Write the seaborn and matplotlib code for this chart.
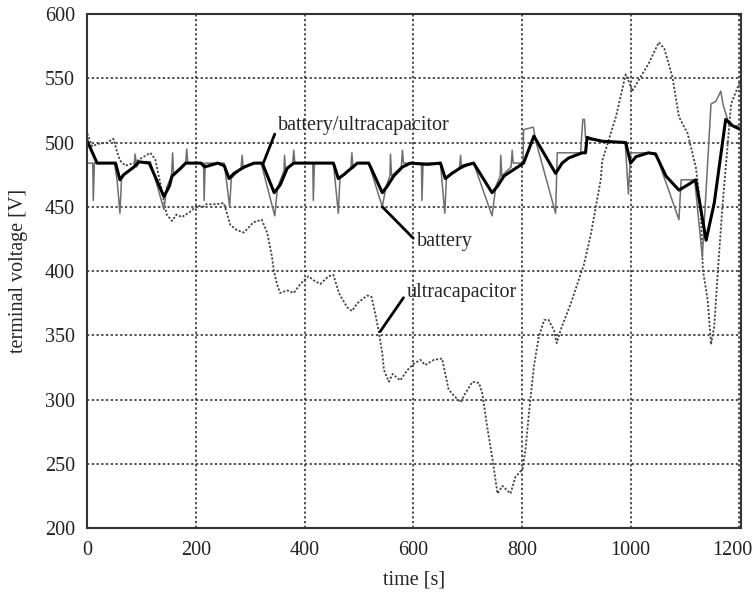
import matplotlib
matplotlib.use("Agg")
import matplotlib.pyplot as plt
import matplotlib.transforms as mtransforms
import seaborn as sns
import pandas as pd

# Combined battery/ultracapacitor terminal voltage (thick black)
combo_t = [0, 18, 52, 60, 67, 86, 95, 114, 141, 151, 156, 172, 181, 209, 216, 240, 252, 261,
           270, 289, 307, 322, 344, 355, 368, 380, 429, 453, 462, 472, 497, 518, 543, 552,
           564, 580, 595, 626, 650, 659, 671, 693, 711, 745, 755, 767, 785, 803, 822, 862,
           874, 886, 911, 917, 920, 927, 948, 991, 1000, 1010, 1033, 1046, 1065, 1089, 1105,
           1120, 1139, 1154, 1175, 1188, 1203]
combo_v = [501, 484, 484, 471, 475, 481, 485, 484, 458, 466, 474, 480, 484, 484, 481, 484, 482, 472,
           476, 481, 484, 484, 461, 467, 480, 484, 484, 484, 472, 475, 484, 484, 461, 466,
           474, 481, 484, 483, 484, 472, 476, 482, 484, 461, 466, 474, 479, 484, 505, 476,
           484, 488, 492, 492, 504, 503, 501, 500, 484, 489, 492, 491, 474, 463, 467,
           471, 424, 453, 518, 513, 510]

# Battery-only terminal voltage (thin grey)
batt_t = [0, 10, 11, 13, 50, 55, 60, 63, 70, 86, 88, 91, 95, 116, 141, 146, 155, 157, 159, 170,
          181, 183, 185, 214, 215, 217, 252, 262, 265, 283, 285, 287, 307, 320, 345, 350, 362,
          363, 365, 378, 380, 382, 415, 416, 418, 453, 462, 465, 485, 487, 489, 497, 518, 543,
          550, 557, 558, 560, 578, 580, 582, 615, 616, 618, 650, 658, 661, 685, 687, 689, 711,
          745, 752, 760, 761, 763, 780, 782, 784, 802, 803, 821, 825, 862, 865, 908, 912, 915,
          917, 927, 990, 996, 1000, 1046, 1089, 1093, 1118, 1132, 1148, 1157, 1166, 1170, 1182,
          1203]
batt_v = [484, 484, 455, 484, 484, 470, 445, 472, 476, 481, 491, 481, 485, 485, 448, 465, 474, 492,
          474, 480, 484, 495, 484, 484, 455, 484, 484, 450, 472, 480, 490, 480, 484, 484, 443, 465,
          478, 490, 478, 484, 494, 484, 484, 455, 484, 484, 445, 472, 480, 492, 480, 484, 484, 450,
          466, 474, 491, 474, 481, 494, 484, 484, 455, 484, 484, 445, 472, 480, 490, 480, 484,
          443, 466, 474, 490, 474, 481, 494, 484, 484, 510, 512, 502, 445, 492, 492, 518, 518,
          504, 502, 500, 460, 492, 492, 440, 471, 471, 411, 530, 532, 540, 530, 513,
          513]

# Ultracapacitor-only terminal voltage (dotted grey)
uc_t = [0, 9, 20, 37, 48, 54, 60, 70, 85, 100, 116, 125, 137, 143, 146, 156, 164, 174, 189, 202,
        213, 219, 238, 251, 257, 263, 275, 288, 306, 321, 331, 340, 343, 349, 355, 368, 380, 392,
        407, 416, 429, 444, 453, 463, 478, 487, 497, 515, 523, 530, 536, 543, 546, 555, 562, 576,
        589, 601, 613, 622, 638, 653, 665, 675, 687, 693, 709, 721, 727, 736, 745, 755, 764, 779,
        788, 801, 807, 813, 822, 831, 841, 849, 859, 864, 871, 890, 914, 927, 936, 945, 948, 973,
        991, 1000, 1003, 1034, 1052, 1062, 1077, 1089, 1105, 1120, 1129, 1133, 1142, 1148, 1154,
        1160, 1169, 1185, 1203]
uc_v = [507, 497, 499, 500, 503, 494, 486, 482, 484, 488, 492, 487, 463, 450, 444, 439, 444, 442,
        446, 451, 450, 452, 452, 453, 445, 436, 432, 430, 438, 440, 430, 411, 401, 390, 383, 385,
        383, 390, 396, 393, 390, 396, 397, 383, 372, 369, 375, 381, 380, 367, 354, 336, 323, 314,
        320, 315, 323, 328, 331, 327, 331, 332, 308, 303, 298, 303, 314, 313, 305, 279, 256, 227,
        233, 227, 240, 246, 263, 290, 326, 349, 362, 362, 354, 344, 354, 375, 405, 429, 450, 471,
        486, 520, 553, 544, 540, 562, 578, 573, 551, 520, 507, 481, 450, 401, 377, 343, 357, 396,
        450, 530, 549]

x_ticks = [0, 200, 400, 600, 800, 1000, 1200]
y_ticks = [200, 250, 300, 350, 400, 450, 500, 550, 600]

sns.set_style("white")
plt.rcParams["font.family"] = ["Liberation Serif", "DejaVu Serif"]

fig = plt.figure(figsize=(7.56, 5.96), dpi=100)
ax = fig.add_axes([0.1155, 0.1136, 0.8645, 0.863])

uc_df = pd.DataFrame({"t": uc_t, "v": uc_v})
batt_df = pd.DataFrame({"t": batt_t, "v": batt_v})
combo_df = pd.DataFrame({"t": combo_t, "v": combo_v})

sns.lineplot(data=uc_df, x="t", y="v", ax=ax, sort=False, estimator=None,
             color="#444444", linewidth=1.3, linestyle=(0, (1.2, 1.0)))
sns.lineplot(data=batt_df, x="t", y="v", ax=ax, sort=False, estimator=None,
             color="#6e6e6e", linewidth=1.1)
sns.lineplot(data=combo_df, x="t", y="v", ax=ax, sort=False, estimator=None,
             color="black", linewidth=2.2)

ax.set_xlim(0, 1203)
ax.set_ylim(200, 600)
ax.set_xticks(x_ticks)
ax.set_yticks(y_ticks)
ax.grid(True, color="#222222", linestyle=(0, (1.5, 1.6)), linewidth=1.1)
ax.set_axisbelow(True)
ax.tick_params(direction="in", length=5, width=1, labelsize=14.5, pad=9, colors="#222222")
for s in ax.spines.values():
    s.set_color("#333333")
    s.set_linewidth(1.5)

# keep the last time label inside the canvas
last = ax.get_xticklabels()[-1]
last.set_transform(last.get_transform() +
                   mtransforms.ScaledTranslation(-7 / 100, 0, fig.dpi_scale_trans))

ax.set_xlabel("time [s]", fontsize=14.5, labelpad=8)
ax.set_ylabel("terminal voltage [V]", fontsize=14.5, labelpad=12)

line_kw = dict(arrowstyle="-", color="black", lw=2, shrinkA=0, shrinkB=0, relpos=(0, 0.5))
ax.annotate("battery/ultracapacitor", xy=(323, 483), xytext=(351, 513),
            fontsize=14.5, ha="left", va="center", arrowprops=line_kw)
ax.annotate("battery", xy=(543, 450), xytext=(606, 423),
            fontsize=14.5, ha="left", va="center", arrowprops=line_kw)
ax.annotate("ultracapacitor", xy=(539, 353), xytext=(588, 383),
            fontsize=14.5, ha="left", va="center", arrowprops=line_kw)

fig.savefig("out.png", dpi=100)
